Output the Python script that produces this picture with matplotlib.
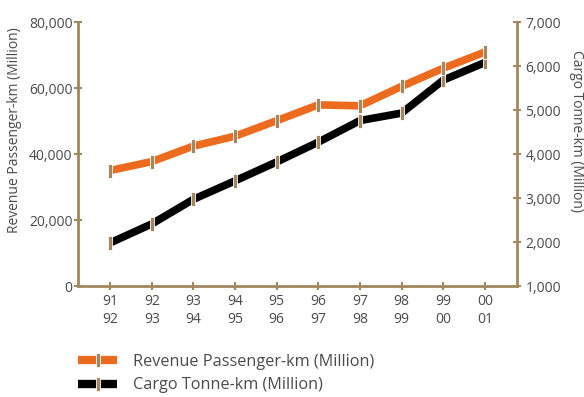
import matplotlib
matplotlib.use("Agg")
import matplotlib.pyplot as plt
from matplotlib.lines import Line2D

plt.rcParams['font.family'] = ['Open Sans', 'DejaVu Sans']

years = ["91\n92", "92\n93", "93\n94", "94\n95", "95\n96",
         "96\n97", "97\n98", "98\n99", "99\n00", "00\n01"]
passenger_km = [35000, 37700, 42400, 45400, 50100, 54900, 54600, 60500, 66000, 70900]
cargo_tonne_km = [1980, 2410, 2970, 3390, 3820, 4270, 4760, 4930, 5680, 6080]

left_ticks = [0, 20000, 40000, 60000, 80000]
right_ticks = [1000, 2000, 3000, 4000, 5000, 6000, 7000]

AXIS = "#a2875f"
TEXT = "#4a4a4a"
ORANGE = "#ec6b1f"
BLACK = "#000000"

bar_marker = [(-1.2, -5), (1.2, -5), (1.2, 5), (-1.2, 5), (-1.2, -5)]
mk = dict(marker=bar_marker, markersize=9.5, markerfacecolor=AXIS,
          markeredgecolor="white", markeredgewidth=0.6)

fig = plt.figure(figsize=(5.84, 3.97), dpi=100)
ax = fig.add_axes([78 / 584, 1 - 286 / 397, (517 - 78) / 584, (286 - 22) / 397])
ax2 = ax.twinx()

x = list(range(len(years)))
ax.plot(x, passenger_km, color=ORANGE, lw=5.5, solid_capstyle="butt", zorder=3, **mk)
ax2.plot(x, cargo_tonne_km, color=BLACK, lw=5.5, solid_capstyle="butt", zorder=3, **mk)

ax.set_xlim(-0.77, 9.77)
ax.set_ylim(0, 80000)
ax2.set_ylim(1000, 7000)

ax.set_xticks(x)
ax.set_xticklabels(years, linespacing=1.25)
ax.set_yticks(left_ticks)
ax.set_yticklabels([f"{v:,}" for v in left_ticks])
ax2.set_yticks(right_ticks)
ax2.set_yticklabels([f"{v:,}" for v in right_ticks])

for a in (ax, ax2):
    for s in a.spines.values():
        s.set_visible(False)
    a.tick_params(colors=AXIS, labelcolor=TEXT, labelsize=10, direction="inout",
                  length=6, width=1.5, pad=3)
ax.tick_params(axis="y", pad=1)
ax.spines["left"].set_visible(True)
ax.spines["bottom"].set_visible(True)
ax2.spines["right"].set_visible(True)
for a, side in ((ax, "left"), (ax, "bottom"), (ax2, "right")):
    a.spines[side].set_color(AXIS)
    a.spines[side].set_linewidth(2)
ax2.set_zorder(ax.get_zorder() - 1)
ax.patch.set_visible(False)

ax.set_ylabel("Revenue Passenger-km (Million)", color=TEXT, fontsize=10,
              va="center", ha="center")
ax.yaxis.set_label_coords(-0.145, 0.59)
ax2.set_ylabel("Cargo Tonne-km (Million)", color=TEXT, fontsize=10, rotation=270,
               va="center", ha="center")
ax2.yaxis.set_label_coords(1.135, 0.587)

handles = [Line2D([], [], color=ORANGE, lw=6, solid_capstyle="butt", **mk),
           Line2D([], [], color=BLACK, lw=6, solid_capstyle="butt", **mk)]
fig.legend(handles, ["Revenue Passenger-km (Million)", "Cargo Tonne-km (Million)"],
           loc="upper left", bbox_to_anchor=(78 / 584, 1 - 354 / 397), frameon=False,
           fontsize=11.7, labelcolor=TEXT, handlelength=2.4, handletextpad=1.0,
           labelspacing=0.45, numpoints=1, borderpad=0, borderaxespad=0)

fig.savefig("out.png", dpi=100)
